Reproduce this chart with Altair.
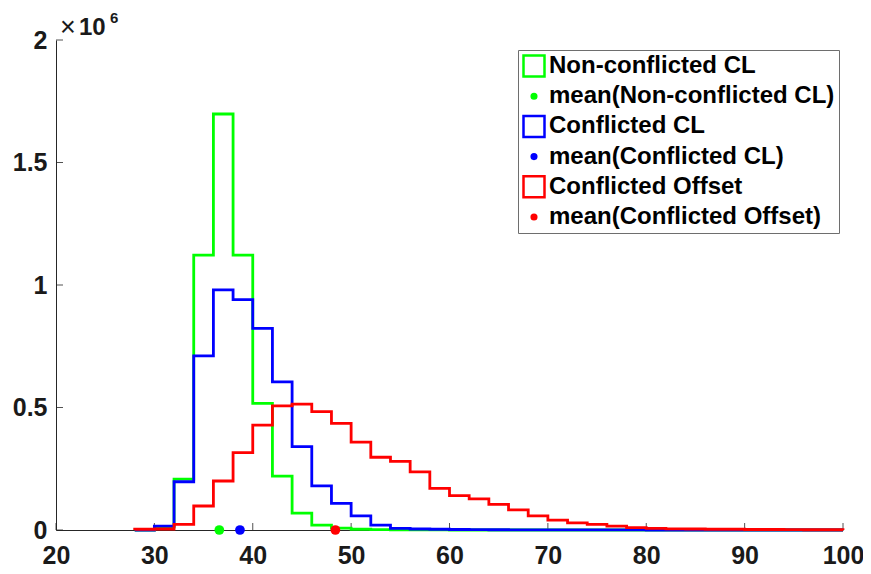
import altair as alt
import pandas as pd

# ---- data ----
bin_edges = [28, 30, 32, 34, 36, 38, 40, 42, 44, 46, 48, 50, 52, 54, 56, 58, 60, 62, 64,
             66, 68, 70, 72, 74, 76, 78, 80, 82, 84, 86, 88, 90, 92, 94, 96, 98, 100]

green_counts = [0, 12000, 208000, 1122000, 1698000, 1122000, 517000, 220000, 69000, 20000,
                8000, 3000, 1500, 800, 400, 200, 100, 0, 0, 0, 0, 0, 0, 0, 0, 0, 0, 0, 0,
                0, 0, 0, 0, 0, 0, 0]
blue_counts = [0, 16000, 197000, 711000, 980000, 940000, 823000, 605000, 340000, 180000,
               109000, 58000, 20000, 7000, 4000, 3000, 2000, 1500, 1000, 800, 600, 500,
               400, 300, 200, 200, 100, 100, 100, 100, 100, 100, 0, 0, 0, 0]
red_counts = [3000, 4000, 23000, 98000, 200000, 316000, 428000, 507000, 514000, 483000,
              435000, 359000, 297000, 280000, 237000, 170000, 140000, 127000, 105000, 82000,
              58000, 40000, 29000, 23000, 16000, 10000, 7000, 5000, 4000, 3000, 3000, 2000,
              2000, 1500, 1000, 1000]

series_names = ["Non-conflicted CL", "Conflicted CL", "Conflicted Offset"]
series_colors = ["#00ff00", "#0000ff", "#ff0000"]
mean_values = [36.6, 38.7, 48.4]

legend_labels = ["Non-conflicted CL", "mean(Non-conflicted CL)",
                 "Conflicted CL", "mean(Conflicted CL)",
                 "Conflicted Offset", "mean(Conflicted Offset)"]

x_ticks = [20, 30, 40, 50, 60, 70, 80, 90, 100]
y_ticks = [0, 500000, 1000000, 1500000, 2000000]

W, H = 787, 490
AXIS_COLOR = "#262626"
TEXT_COLOR = "#1a1a1a"
FONT = "Liberation Sans"


def step_frame(counts):
    xs = [bin_edges[0]] + bin_edges[:-1] + [bin_edges[-1], bin_edges[-1]]
    ys = [0] + counts + [counts[-1], 0]
    return pd.DataFrame({"x": xs, "y": ys, "i": list(range(len(xs)))})


xscale = alt.Scale(domain=[20, 100], nice=False, zero=False)
yscale = alt.Scale(domain=[0, 2000000], nice=False)

xaxis = alt.Axis(values=x_ticks, format="d", title=None, grid=False, ticks=False,
                 labelFont=FONT, labelFontSize=25, labelFontWeight="bold",
                 labelColor=TEXT_COLOR, labelPadding=13, labelFlush=False,
                 labelOverlap=False, domainColor=AXIS_COLOR, domainWidth=1)
yaxis = alt.Axis(values=y_ticks, labelExpr="datum.value / 1000000", title=None,
                 grid=False, ticks=False, labelFont=FONT, labelFontSize=25,
                 labelFontWeight="bold", labelColor=TEXT_COLOR, labelPadding=9,
                 labelOverlap=False, domainColor=AXIS_COLOR, domainWidth=1)

layers = []

# inward tick marks
layers.append(
    alt.Chart(pd.DataFrame({"v": x_ticks})).mark_rule(color=AXIS_COLOR, strokeWidth=0.8)
    .encode(x=alt.X("v:Q", scale=xscale, axis=xaxis), y=alt.value(H), y2=alt.value(H - 7))
)
layers.append(
    alt.Chart(pd.DataFrame({"v": y_ticks})).mark_rule(color=AXIS_COLOR, strokeWidth=0.8)
    .encode(y=alt.Y("v:Q", scale=yscale, axis=yaxis), x=alt.value(0), x2=alt.value(7))
)

for counts, color, mean in zip([green_counts, blue_counts, red_counts], series_colors, mean_values):
    layers.append(
        alt.Chart(step_frame(counts)).mark_line(interpolate="step-after", color=color,
                                                 strokeWidth=2.8, strokeJoin="miter")
        .encode(x=alt.X("x:Q", scale=xscale, axis=xaxis),
                y=alt.Y("y:Q", scale=yscale, axis=yaxis),
                order=alt.Order("i:Q"))
    )
    layers.append(
        alt.Chart(pd.DataFrame({"x": [mean], "y": [0]})).mark_circle(size=95, color=color, opacity=1)
        .encode(x=alt.X("x:Q", scale=xscale), y=alt.Y("y:Q", scale=yscale))
    )

# legend-only layer (no drawable rows: x/y missing)
square_path = "M-1,-1H1V1H-1Z"
dot_path = "M0.22,0A0.22,0.22 0 1,1 -0.22,0A0.22,0.22 0 1,1 0.22,0Z"
shape_range = [square_path, dot_path] * 3
stroke_range = [c for c in series_colors for _ in range(2)]
fill_range = [v for c in series_colors for v in ("white", c)]

leg = alt.Legend(title=None)
layers.append(
    alt.Chart(alt.Data(values=[{"label": l} for l in legend_labels]))
    .mark_point(filled=True, opacity=1)
    .encode(
        x=alt.X("x:Q", scale=xscale), y=alt.Y("y:Q", scale=yscale),
        fill=alt.Fill("label:N", scale=alt.Scale(domain=legend_labels, range=fill_range), legend=leg),
        stroke=alt.Stroke("label:N", scale=alt.Scale(domain=legend_labels, range=stroke_range), legend=leg),
        shape=alt.Shape("label:N", scale=alt.Scale(domain=legend_labels, range=shape_range), legend=leg),
    )
)

# x10^6 multiplier
mult_parts = [("×", 4, -4, 27, "normal"), ("10", 23, -5, 24, "bold"), ("6", 54, -17, 15, "bold")]
for txt, px, py, fs, fw in mult_parts:
    layers.append(
        alt.Chart(alt.Data(values=[{"t": txt}])).mark_text(
            align="left", baseline="alphabetic", font=FONT, fontSize=fs,
            fontWeight=fw, color=TEXT_COLOR)
        .encode(x=alt.value(px), y=alt.value(py), text="t:N")
    )

chart = alt.layer(*layers).properties(
    width=W, height=H,
    autosize=alt.AutoSizeParams(type="none"),
    padding={"left": 48, "top": 32, "right": 20, "bottom": 40},
).configure_view(stroke=None).configure_legend(
    orient="none", legendX=462, legendY=10,
    labelFont=FONT, labelFontSize=24, labelFontWeight="bold", labelColor="#000000",
    labelLimit=0, labelOffset=3, symbolSize=441, symbolStrokeWidth=2.5,
    strokeColor="#6e6e6e", fillColor="white", padding=4, rowPadding=2.2,
)

chart.save("out.html", embed_options={"renderer": "svg", "actions": False})
